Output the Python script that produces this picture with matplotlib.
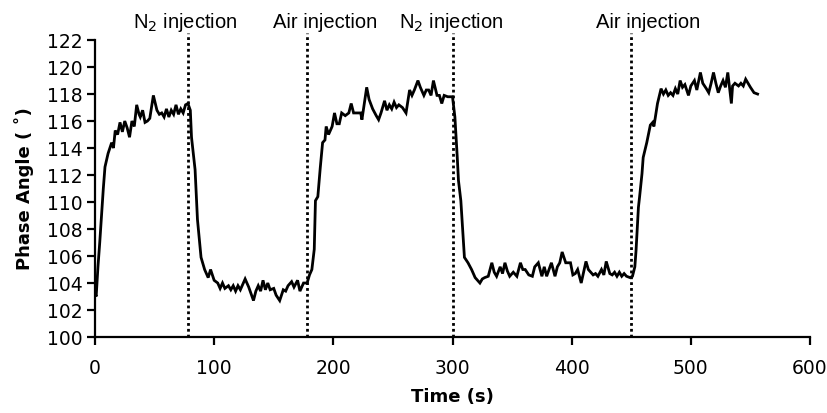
import matplotlib
matplotlib.use("Agg")
import matplotlib.pyplot as plt

time_s = [0, 1, 2.5, 4, 5.6, 7, 8.4, 11, 14, 15.5, 17, 19, 21, 23, 25, 27, 29, 31, 33, 35, 37, 38, 40, 42, 44, 46, 49, 52, 54, 56, 58, 60, 62, 64, 66, 68, 70, 72, 74, 76, 78, 80, 81, 84, 86, 89, 92, 95, 97, 100, 103, 105, 107, 109, 112, 114, 116, 118, 120, 122, 126, 129, 133, 135, 137, 139, 141, 143, 145, 147, 150, 152, 155, 158, 160, 162, 165, 167, 170, 172, 175, 178, 180, 182, 184, 185, 187, 189, 191, 193, 194, 196, 199, 201, 203, 205, 207, 210, 213, 215, 217, 219, 221, 223, 224, 228, 230, 233, 236, 238, 240, 243, 245, 247, 249, 251, 253, 255, 258, 261, 264, 266, 268, 271, 273, 276, 278, 280, 282, 284, 287, 289, 291, 293, 296, 300, 302, 304, 305, 307, 308, 309, 310, 313, 316, 319, 321, 323, 325, 327, 330, 333, 335, 337, 340, 342, 344, 346, 348, 351, 354, 357, 359, 361, 364, 367, 369, 372, 375, 377, 379, 381, 383, 386, 388, 390, 392, 395, 399, 401, 403, 405, 408, 410, 412, 414, 416, 418, 420, 422, 425, 427, 429, 432, 434, 436, 438, 440, 442, 444, 446, 449, 451, 453, 454, 456, 457, 459, 460, 463, 466, 468, 469, 472, 475, 477, 479, 481, 483, 485, 487, 489, 491, 493, 495, 498, 500, 503, 505, 508, 510, 513, 515, 517, 519, 521, 523, 525, 527, 529, 531, 534, 535, 537, 540, 542, 544, 546, 550, 553, 556]

phase_angle = [103.3, 103.0, 105.2, 107.0, 109.2, 111.0, 112.6, 113.6, 114.4, 114.0, 115.3, 115.0, 115.9, 115.2, 116.0, 115.5, 114.8, 116.0, 115.6, 117.2, 116.5, 116.3, 116.8, 115.9, 116.0, 116.2, 117.9, 116.8, 116.5, 116.6, 116.3, 116.9, 116.3, 116.8, 116.5, 117.2, 116.5, 116.9, 116.6, 117.2, 117.3, 116.8, 114.8, 112.4, 108.7, 105.9, 105.0, 104.4, 105.0, 104.2, 104.0, 103.6, 104.0, 103.6, 103.8, 103.5, 103.8, 103.4, 103.8, 103.5, 104.3, 103.7, 102.7, 103.4, 103.8, 103.4, 104.2, 103.5, 104.0, 103.5, 103.6, 103.1, 102.7, 103.5, 103.4, 103.8, 104.1, 103.7, 104.2, 103.4, 104.0, 104.0, 104.6, 105.0, 106.5, 110.1, 110.4, 112.5, 114.4, 114.6, 115.6, 115.0, 115.6, 116.6, 115.8, 115.8, 116.6, 116.4, 116.6, 117.3, 116.6, 116.6, 116.6, 116.6, 116.1, 118.5, 117.6, 116.9, 116.4, 116.1, 116.6, 117.5, 116.8, 117.2, 116.9, 117.4, 117.0, 117.2, 117.0, 116.6, 118.3, 117.9, 118.3, 119.0, 118.5, 117.9, 118.3, 118.3, 117.9, 119.0, 117.9, 117.9, 117.3, 117.9, 117.8, 117.8, 116.3, 113.3, 111.6, 110.1, 108.7, 107.2, 105.9, 105.5, 105.0, 104.4, 104.2, 104.0, 104.3, 104.4, 104.5, 105.5, 104.8, 104.5, 105.2, 104.7, 105.5, 104.9, 104.5, 104.8, 104.5, 105.5, 105.0, 105.0, 104.6, 104.5, 105.2, 105.5, 104.5, 105.2, 104.5, 105.0, 105.5, 104.5, 105.2, 105.5, 106.3, 105.5, 105.5, 104.6, 104.7, 105.0, 104.0, 104.8, 105.6, 105.0, 104.8, 104.6, 104.7, 104.5, 105.0, 104.6, 105.6, 104.7, 104.6, 104.8, 104.5, 104.8, 104.5, 104.7, 104.5, 104.4, 104.5, 105.2, 106.4, 109.6, 110.4, 112.1, 113.3, 114.4, 115.7, 115.9, 115.6, 117.3, 118.4, 118.0, 118.3, 117.9, 118.1, 117.9, 118.4, 118.0, 119.0, 118.5, 118.7, 117.9, 118.6, 119.0, 118.3, 119.6, 118.8, 118.4, 118.1, 118.8, 119.6, 118.8, 118.1, 118.6, 119.0, 118.5, 119.6, 117.3, 118.6, 118.8, 118.6, 118.8, 118.6, 119.1, 118.5, 118.1, 118.0]

injection_times = [78, 178, 300, 450]
injection_labels = ["N$_2$ injection", "Air injection", "N$_2$ injection", "Air injection"]
label_centers = [75.5, 193, 298.7, 464]

x_ticks = [0, 100, 200, 300, 400, 500, 600]
y_ticks = [100, 102, 104, 106, 108, 110, 112, 114, 116, 118, 120, 122]

fig = plt.figure(figsize=(8.28, 4.13), dpi=100)
ax = fig.add_axes([0.1147, 0.184, 0.9783 - 0.1147, 0.903 - 0.184])

ax.plot(time_s, phase_angle, color="black", lw=2.0, solid_joinstyle="miter")

ax.vlines(injection_times, 100, 122.5, colors="black", linestyles=(0, (1, 1.1)),
          lw=2.0, clip_on=False)

for xc, lab in zip(label_centers, injection_labels):
    ax.text(xc, 122.9, lab, ha="center", va="baseline", fontsize=14.5,
            family="Liberation Sans", clip_on=False)

ax.set_xlim(0, 600)
ax.set_ylim(100, 122)
ax.set_xticks(x_ticks)
ax.set_yticks(y_ticks)
ax.tick_params(direction="out", length=6, width=1.6, labelsize=13.5, colors="black", pad=3)
ax.tick_params(axis="x", pad=10)

for s in ["top", "right"]:
    ax.spines[s].set_visible(False)
for s in ["left", "bottom"]:
    ax.spines[s].set_linewidth(1.6)

ax.set_xlabel("Time (s)", fontsize=13, fontweight="bold", labelpad=7)
ax.set_ylabel("Phase Angle ( \u02da)", fontsize=13, fontweight="bold", labelpad=9)

fig.savefig("out.png", dpi=100)
